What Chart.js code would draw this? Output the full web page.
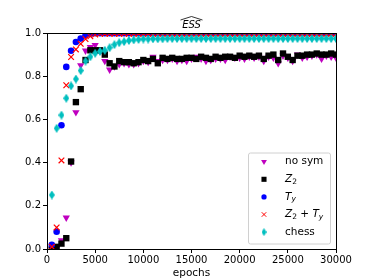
<!DOCTYPE html>
<html>
<head>
<meta charset="utf-8">
<script src="https://cdn.jsdelivr.net/npm/chart.js@4.4.0/dist/chart.umd.min.js"></script>
<style>
body { margin: 0; background: #fff; }
#wrap { width: 374px; height: 280px; }
</style>
</head>
<body>
<div id="wrap"><canvas id="myChart" width="374" height="280"></canvas></div>
<script>
// epochs (x) - one point every 500
var epochs = [500,1000,1500,2000,2500,3000,3500,4000,4500,5000,
  5500,6000,6500,7000,7500,8000,8500,9000,9500,10000,
  10500,11000,11500,12000,12500,13000,13500,14000,14500,15000,
  15500,16000,16500,17000,17500,18000,18500,19000,19500,20000,
  20500,21000,21500,22000,22500,23000,23500,24000,24500,25000,
  25500,26000,26500,27000,27500,28000,28500,29000,29500,30000];

var noSym = [0.0,0.005,0.04,0.145,0.40,0.633,0.85,0.918,0.935,0.944,
  0.918,0.87,0.83,0.845,0.855,0.86,0.855,0.855,0.86,0.87,
  0.865,0.89,0.87,0.875,0.875,0.88,0.87,0.875,0.87,0.88,
  0.89,0.88,0.87,0.875,0.88,0.88,0.875,0.89,0.885,0.885,
  0.88,0.89,0.885,0.89,0.87,0.89,0.885,0.86,0.895,0.885,
  0.87,0.90,0.885,0.89,0.895,0.90,0.88,0.895,0.89,0.885];

var z2 = [0.0,0.01,0.025,0.05,0.405,0.68,0.74,0.875,0.92,0.92,
  0.92,0.90,0.86,0.845,0.87,0.865,0.865,0.86,0.865,0.875,
  0.87,0.88,0.86,0.885,0.88,0.885,0.88,0.88,0.885,0.885,
  0.88,0.89,0.885,0.88,0.89,0.885,0.89,0.89,0.885,0.895,
  0.89,0.895,0.89,0.895,0.88,0.895,0.90,0.875,0.905,0.89,
  0.875,0.895,0.895,0.90,0.90,0.905,0.90,0.90,0.905,0.90];

var ty = [0.02,0.08,0.573,0.843,0.918,0.958,0.974,0.99,0.997,0.999,
  0.999,0.999,0.999,0.999,0.999,0.999,0.999,0.999,0.999,0.999,
  0.999,0.999,0.999,0.999,0.999,0.999,0.999,0.999,0.999,0.999,
  0.999,0.999,0.999,0.999,0.999,0.999,0.999,0.999,0.999,0.999,
  0.999,0.999,0.999,0.999,0.999,0.999,0.999,0.999,0.999,0.999,
  0.999,0.999,0.999,0.999,0.999,0.999,0.999,0.999,0.999,0.999];

var z2ty = [0.01,0.10,0.41,0.758,0.889,0.924,0.95,0.972,0.985,0.993,
  0.996,0.997,0.997,0.997,0.997,0.997,0.997,0.997,0.997,0.997,
  0.997,0.997,0.997,0.997,0.997,0.997,0.997,0.997,0.997,0.997,
  0.997,0.997,0.997,0.997,0.997,0.997,0.997,0.997,0.997,0.997,
  0.997,0.997,0.997,0.997,0.997,0.997,0.997,0.997,0.997,0.997,
  0.997,0.997,0.997,0.997,0.997,0.997,0.997,0.997,0.997,0.997];

var chess = [0.25,0.559,0.62,0.698,0.755,0.787,0.826,0.87,0.89,0.906,
  0.915,0.92,0.932,0.946,0.955,0.96,0.965,0.968,0.97,0.972,
  0.972,0.973,0.973,0.973,0.974,0.974,0.974,0.974,0.974,0.974,
  0.974,0.974,0.974,0.974,0.974,0.974,0.974,0.974,0.974,0.974,
  0.974,0.974,0.974,0.974,0.974,0.974,0.974,0.974,0.974,0.974,
  0.974,0.974,0.974,0.974,0.974,0.974,0.974,0.974,0.974,0.974];

var xTicks = [0,5000,10000,15000,20000,25000,30000];
var yTicks = [0.0,0.2,0.4,0.6,0.8,1.0];

// thin diamond marker like matplotlib 'd'
function thinDiamond(color, w, h) {
  var c = document.createElement("canvas");
  c.width = w; c.height = h;
  var g = c.getContext("2d");
  g.fillStyle = color;
  g.beginPath();
  g.moveTo(w / 2, 0); g.lineTo(w, h / 2); g.lineTo(w / 2, h); g.lineTo(0, h / 2);
  g.closePath(); g.fill();
  return c;
}

function pts(arr) {
  var out = [];
  for (var i = 0; i < epochs.length; i++) out.push({x: epochs[i], y: arr[i]});
  return out;
}

var series = [
  {label: 'no sym', data: noSym, color: '#bf00bf', style: 'triangle', rot: 180, r: 4.2, bw: 0, order: 5},
  {label: 'Z2', data: z2, color: '#000000', style: 'rect', rot: 0, r: 4.5, bw: 0, order: 4},
  {label: 'Ty', data: ty, color: '#0000ff', style: 'circle', rot: 0, r: 3.3, bw: 0, order: 3},
  {label: 'Z2+Ty', data: z2ty, color: '#ff0000', style: 'crossRot', rot: 0, r: 4, bw: 1.2, order: 2},
  {label: 'chess', data: chess, color: '#00bfbf', style: thinDiamond('#00bfbf', 6, 9), rot: 0, r: 4, bw: 0, order: 1}
];
var legendDiamond = thinDiamond('#00bfbf', 5, 8);

var datasets = series.map(function (s) {
  return {
    label: s.label,
    data: pts(s.data),
    showLine: false,
    pointStyle: s.style,
    pointRotation: s.rot,
    pointRadius: s.r,
    pointBackgroundColor: s.color,
    pointBorderColor: s.color,
    pointBorderWidth: s.bw,
    order: s.order,
    clip: 0
  };
});

// draws italic name with subscripts, eg Z_2 + T_y
function mathText(ctx, parts, x, y) {
  parts.forEach(function (p) {
    ctx.font = p[1];
    ctx.fillText(p[0], x, y + (p[2] || 0));
    x += ctx.measureText(p[0]).width;
  });
}

var legendLabels = [
  [['no sym', '10.5px "DejaVu Sans"']],
  [['Z', 'italic 10.5px "DejaVu Sans"'], ['2', '7.5px "DejaVu Sans"', 2.5]],
  [['T', 'italic 10.5px "DejaVu Sans"'], ['y', 'italic 7.5px "DejaVu Sans"', 2.5]],
  [['Z', 'italic 10.5px "DejaVu Sans"'], ['2', '7.5px "DejaVu Sans"', 2.5], [' + ', '10.5px "DejaVu Sans"'],
   ['T', 'italic 10.5px "DejaVu Sans"'], ['y', 'italic 7.5px "DejaVu Sans"', 2.5]],
  [['chess', '10.5px "DejaVu Sans"']]
];

var framePlugin = {
  id: 'frame',
  afterDraw: function (chart) {
    var ctx = chart.ctx, a = chart.chartArea;
    ctx.save();
    // box round the axes
    ctx.strokeStyle = '#000';
    ctx.lineWidth = 1;
    ctx.strokeRect(Math.round(a.left) + 0.5, Math.round(a.top) + 0.5,
      Math.round(a.right - a.left), Math.round(a.bottom - a.top));

    // title ESS with a wide hat
    var cx = (a.left + a.right) / 2;
    ctx.fillStyle = '#000';
    ctx.font = 'italic 10px "DejaVu Sans"';
    ctx.textAlign = 'center';
    ctx.textBaseline = 'alphabetic';
    ctx.fillText('ESS', cx, 28);
    ctx.beginPath();
    ctx.lineWidth = 0.8;
    ctx.moveTo(cx - 11, 20);
    ctx.lineTo(cx, 16.5);
    ctx.lineTo(cx + 11, 20);
    ctx.stroke();

    // legend inside the plot
    var lx = 248, ly = 152.5, lw = 82, lh = 91;
    ctx.fillStyle = 'rgba(255,255,255,0.8)';
    ctx.strokeStyle = '#d0d0d0';
    ctx.lineWidth = 1;
    ctx.beginPath();
    ctx.roundRect(lx + 0.5, ly + 0.5, lw, lh, 2);
    ctx.fill();
    ctx.stroke();
    ctx.textAlign = 'left';
    ctx.textBaseline = 'middle';
    series.forEach(function (s, i) {
      var y = 161.7 + i * 17.6;
      ctx.fillStyle = s.color;
      ctx.strokeStyle = s.color;
      Chart.helpers.drawPoint(ctx, {
        pointStyle: i === 4 ? legendDiamond : s.style, rotation: s.rot, radius: s.r * 0.8,
        borderWidth: s.bw
      }, 264, y);
      ctx.fillStyle = '#000';
      mathText(ctx, legendLabels[i], 285, y);
    });
    ctx.restore();
  }
};

var ctx = document.getElementById("myChart");
var myChart = new Chart(ctx, {
  type: 'scatter',
  data: {datasets: datasets},
  options: {
    responsive: false,
    animation: false,
    layout: {padding: {top: 33, right: 38, left: 0, bottom: 0}},
    plugins: {legend: {display: false}, tooltip: {enabled: false}, title: {display: false}},
    scales: {
      x: {
        min: 0, max: 30000,
        afterBuildTicks: function (axis) { axis.ticks = xTicks.map(function (v) { return {value: v}; }); },
        afterFit: function (axis) { axis.height = 31; },
        grid: {display: true, drawOnChartArea: false, tickLength: 4, color: '#000'},
        border: {display: false},
        ticks: {color: '#000', font: {family: 'DejaVu Sans', size: 10}, padding: 1, maxRotation: 0,
          callback: function (v) { return String(v); }},
        title: {display: true, text: 'epochs', color: '#000', font: {family: 'DejaVu Sans', size: 10.5}, padding: {top: 0, bottom: 0}}
      },
      y: {
        min: 0, max: 1,
        afterBuildTicks: function (axis) { axis.ticks = yTicks.map(function (v) { return {value: v}; }); },
        afterFit: function (axis) { axis.width = 47; },
        grid: {display: true, drawOnChartArea: false, tickLength: 4, color: '#000'},
        border: {display: false},
        ticks: {color: '#000', font: {family: 'DejaVu Sans', size: 10}, padding: 2,
          callback: function (v) { return v.toFixed(1); }}
      }
    }
  },
  plugins: [framePlugin]
});
</script>
</body>
</html>
